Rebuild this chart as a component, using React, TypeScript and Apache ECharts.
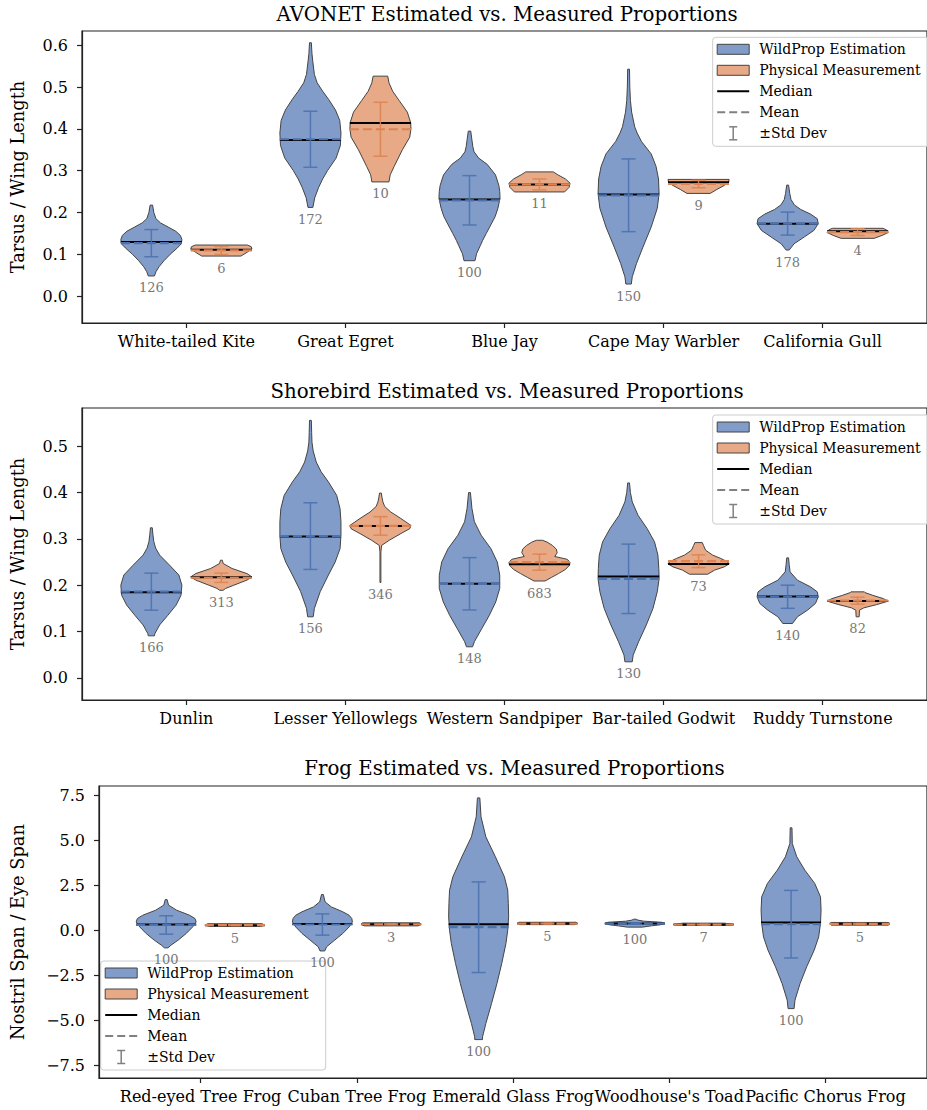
import React, { useEffect, useRef } from 'react';
import * as echarts from 'echarts';

// ---------------- DATA ----------------
const avonetCategories = ['White-tailed Kite', 'Great Egret', 'Blue Jay', 'Cape May Warbler', 'California Gull'];
const shoreCategories = ['Dunlin', 'Lesser Yellowlegs', 'Western Sandpiper', 'Bar-tailed Godwit', 'Ruddy Turnstone'];
const frogCategories = ['Red-eyed Tree Frog', 'Cuban Tree Frog', 'Emerald Glass Frog', "Woodhouse's Toad", 'Pacific Chorus Frog'];

const avonetTicks = [0, 0.1, 0.2, 0.3, 0.4, 0.5, 0.6];
const shoreTicks = [0, 0.1, 0.2, 0.3, 0.4, 0.5];
const frogTicks = [-7.5, -5, -2.5, 0, 2.5, 5, 7.5];

// violin outlines: [value, relative half-width]
const avonetEstProfiles = [
  [[0.048, 0.1], [0.058, 0.15], [0.07, 0.25], [0.085, 0.42], [0.1, 0.62], [0.115, 0.85], [0.125, 0.98], [0.135, 1.0], [0.145, 0.95], [0.155, 0.8], [0.165, 0.55], [0.175, 0.3], [0.185, 0.15], [0.2, 0.08], [0.2175, 0.04]],
  [[0.212, 0.08], [0.235, 0.14], [0.26, 0.27], [0.28, 0.4], [0.3, 0.56], [0.33, 0.84], [0.36, 0.98], [0.39, 1.0], [0.42, 0.96], [0.445, 0.82], [0.47, 0.6], [0.49, 0.4], [0.51, 0.22], [0.53, 0.13], [0.56, 0.08], [0.58, 0.05], [0.606, 0.03]],
  [[0.0845, 0.18], [0.101, 0.23], [0.12, 0.35], [0.133, 0.43], [0.15, 0.55], [0.165, 0.66], [0.19, 0.84], [0.21, 0.93], [0.234, 1.0], [0.25, 0.99], [0.265, 0.96], [0.29, 0.85], [0.315, 0.58], [0.33, 0.3], [0.345, 0.15], [0.357, 0.11], [0.373, 0.08], [0.3945, 0.04]],
  [[0.0287, 0.09], [0.046, 0.12], [0.078, 0.26], [0.117, 0.47], [0.165, 0.74], [0.21, 0.94], [0.245, 1.0], [0.28, 0.98], [0.31, 0.9], [0.34, 0.74], [0.37, 0.42], [0.39, 0.28], [0.405, 0.2], [0.44, 0.1], [0.468, 0.06], [0.5, 0.04], [0.5427, 0.03]],
  [[0.11, 0.05], [0.125, 0.21], [0.141, 0.54], [0.157, 0.86], [0.173, 1.0], [0.185, 0.97], [0.196, 0.75], [0.207, 0.43], [0.218, 0.22], [0.231, 0.11], [0.245, 0.07], [0.2654, 0.03]],
];
const avonetEstMedian = [0.129, 0.373, 0.231, 0.243, 0.173];
const avonetEstMean = [0.1265, 0.375, 0.229, 0.241, 0.1733];
const avonetEstSd = [0.0325, 0.067, 0.059, 0.087, 0.0275];
const avonetEstCount = [126, 172, 100, 150, 178];

const avonetMeasProfiles = [
  [[0.0956, 0.64], [0.105, 0.85], [0.113, 1.0], [0.118, 0.98], [0.122, 0.85]],
  [[0.273, 0.28], [0.29, 0.32], [0.31, 0.45], [0.35, 0.72], [0.38, 0.96], [0.4, 1.0], [0.415, 0.99], [0.44, 0.88], [0.468, 0.61], [0.49, 0.4], [0.51, 0.28], [0.526, 0.24]],
  [[0.249, 0.82], [0.26, 0.97], [0.27, 1.0], [0.28, 0.85], [0.29, 0.6], [0.297, 0.45]],
  [[0.2455, 0.38], [0.255, 0.6], [0.265, 0.85], [0.272, 0.98], [0.279, 1.0]],
  [[0.138, 0.54], [0.145, 0.8], [0.152, 1.0], [0.158, 0.95], [0.162, 0.83]],
];
const avonetMeasMedian = [0.111, 0.414, 0.267, 0.272, 0.155];
const avonetMeasMean = [0.109, 0.399, 0.267, 0.268, 0.153];
const avonetMeasSd = [0.0095, 0.0645, 0.013, 0.009, 0.008];
const avonetMeasCount = [6, 10, 11, 9, 4];

const shoreEstProfiles = [
  [[0.0906, 0.1], [0.096, 0.12], [0.114, 0.27], [0.135, 0.54], [0.157, 0.81], [0.178, 0.97], [0.2, 1.0], [0.222, 0.9], [0.243, 0.6], [0.265, 0.27], [0.28, 0.14], [0.294, 0.08], [0.31, 0.05], [0.324, 0.03]],
  [[0.1317, 0.09], [0.15, 0.13], [0.186, 0.32], [0.222, 0.59], [0.25, 0.81], [0.279, 0.97], [0.308, 1.0], [0.337, 1.0], [0.365, 0.97], [0.394, 0.86], [0.423, 0.59], [0.445, 0.35], [0.466, 0.19], [0.49, 0.09], [0.509, 0.05], [0.53, 0.04], [0.556, 0.03]],
  [[0.0669, 0.1], [0.078, 0.16], [0.106, 0.4], [0.135, 0.65], [0.164, 0.86], [0.193, 0.99], [0.2216, 0.99], [0.25, 0.91], [0.279, 0.7], [0.308, 0.38], [0.337, 0.16], [0.3655, 0.08], [0.4, 0.03]],
  [[0.0345, 0.12], [0.049, 0.15], [0.078, 0.33], [0.114, 0.58], [0.15, 0.8], [0.186, 0.94], [0.214, 1.0], [0.236, 0.99], [0.265, 0.96], [0.2935, 0.85], [0.322, 0.61], [0.351, 0.31], [0.38, 0.12], [0.4, 0.06], [0.4209, 0.03]],
  [[0.1173, 0.16], [0.1317, 0.32], [0.146, 0.65], [0.1604, 0.91], [0.1748, 1.0], [0.1856, 0.97], [0.1964, 0.75], [0.2108, 0.32], [0.2288, 0.08], [0.245, 0.05], [0.259, 0.03]],
];
const shoreEstMedian = [0.185, 0.305, 0.203, 0.219, 0.1755];
const shoreEstMean = [0.186, 0.306, 0.203, 0.2137, 0.175];
const shoreEstSd = [0.04, 0.072, 0.0565, 0.075, 0.025];
const shoreEstCount = [166, 156, 148, 130, 140];

const shoreMeasProfiles = [
  [[0.189, 0.06], [0.193, 0.14], [0.2, 0.41], [0.211, 0.84], [0.218, 1.0], [0.225, 0.84], [0.236, 0.35], [0.2468, 0.06], [0.254, 0.03]],
  [[0.2058, 0.015], [0.272, 0.015], [0.286, 0.04], [0.297, 0.29], [0.3115, 0.67], [0.322, 0.96], [0.329, 1.0], [0.344, 0.67], [0.358, 0.34], [0.37, 0.14], [0.38, 0.08], [0.39, 0.05], [0.399, 0.03]],
  [[0.209, 0.18], [0.217, 0.4], [0.225, 0.62], [0.234, 0.85], [0.243, 0.98], [0.25, 1.0], [0.256, 0.9], [0.262, 0.5], [0.27, 0.58], [0.278, 0.55], [0.286, 0.42], [0.293, 0.25], [0.297, 0.1]],
  [[0.2237, 0.3], [0.2324, 0.52], [0.2396, 0.84], [0.246, 1.0], [0.2504, 0.95], [0.2576, 0.73], [0.265, 0.46], [0.2755, 0.23], [0.286, 0.16], [0.292, 0.12]],
  [[0.1317, 0.05], [0.146, 0.06], [0.151, 0.2], [0.158, 0.62], [0.1655, 1.0], [0.171, 0.84], [0.178, 0.5], [0.184, 0.24], [0.1856, 0.22]],
];
const shoreMeasMedian = [0.217, 0.328, 0.2453, 0.246, 0.166];
const shoreMeasMean = [0.216, 0.328, 0.2497, 0.2518, 0.1665];
const shoreMeasSd = [0.01, 0.02, 0.0173, 0.0138, 0.0075];
const shoreMeasCount = [313, 346, 683, 73, 82];

const frogEstProfiles = [
  [[-0.98, 0.06], [-0.83, 0.16], [-0.55, 0.4], [-0.18, 0.67], [0.18, 0.88], [0.46, 1.0], [0.65, 0.96], [0.83, 0.78], [1.11, 0.35], [1.39, 0.08], [1.7, 0.03]],
  [[-1.15, 0.08], [-0.92, 0.14], [-0.55, 0.41], [-0.18, 0.68], [0.18, 0.89], [0.46, 1.0], [0.65, 0.98], [0.83, 0.89], [1.02, 0.68], [1.29, 0.3], [1.57, 0.09], [1.98, 0.03]],
  [[-6.07, 0.13], [-5.92, 0.13], [-5.18, 0.24], [-4.07, 0.43], [-2.96, 0.61], [-1.85, 0.77], [-0.74, 0.91], [0, 0.97], [0.74, 1.0], [1.48, 0.99], [2.22, 0.97], [2.96, 0.86], [4.07, 0.56], [5.18, 0.24], [6.29, 0.08], [7.34, 0.04]],
  [[0.17, 0.25], [0.24, 0.55], [0.3, 0.85], [0.37, 1.0], [0.44, 0.9], [0.5, 0.3], [0.56, 0.1], [0.61, 0.04]],
  [[-4.35, 0.1], [-3.88, 0.13], [-2.96, 0.3], [-2.03, 0.52], [-1.11, 0.77], [-0.37, 0.92], [0.37, 0.98], [1.11, 1.0], [1.85, 0.98], [2.59, 0.79], [3.33, 0.46], [4.07, 0.19], [4.81, 0.04], [5.68, 0.03]],
];
const frogEstMedian = [0.31, 0.35, 0.333, 0.37, 0.425];
const frogEstMean = [0.29, 0.315, 0.166, 0.37, 0.333];
const frogEstSd = [0.51, 0.59, 2.515, 0.04, 1.875];
const frogEstCount = [100, 100, 100, 100, 100];

const frogMeasProfiles = [
  [[0.21, 0.85], [0.29, 1.0], [0.36, 0.9]],
  [[0.24, 0.9], [0.33, 1.0], [0.41, 0.95]],
  [[0.31, 0.9], [0.38, 1.0], [0.44, 0.95]],
  [[0.26, 0.9], [0.32, 1.0], [0.39, 0.7]],
  [[0.28, 0.95], [0.36, 1.0], [0.43, 0.95]],
];
const frogMeasMedian = [0.28, 0.33, 0.37, 0.31, 0.355];
const frogMeasMean = [0.28, 0.33, 0.37, 0.31, 0.355];
const frogMeasSd = [0.02, 0.02, 0.02, 0.02, 0.02];
const frogMeasCount = [5, 3, 5, 7, 5];

// ---------------- STYLE ----------------
const FONT = 'DejaVu Serif';
const BLUE = '#4c72b0';
const ORANGE = '#dd8452';
const BLUE_FILL = 'rgba(76,114,176,0.7)';
const ORANGE_FILL = 'rgba(221,132,82,0.7)';
const HALF_W = 0.192;
const OFFSET = 0.22;
const SPINE = '#222';

function makeRender(profiles, medians, means, sds, counts, offset, fill, color) {
  return (params, api) => {
    const i = params.dataIndex;
    const xc = i + offset;
    const prof = profiles[i];
    const cx = api.coord([xc, 0])[0];
    const hp = api.size([HALF_W, 0])[0];
    const right = prof.map(([v, w]) => [cx + w * hp, api.coord([xc, v])[1]]);
    const left = prof.map(([v, w]) => [cx - w * hp, api.coord([xc, v])[1]]).reverse();
    const pts = right.concat(left);
    const yMed = api.coord([xc, medians[i]])[1];
    const yMean = api.coord([xc, means[i]])[1];
    const yTop = api.coord([xc, means[i] + sds[i]])[1];
    const yBot = api.coord([xc, means[i] - sds[i]])[1];
    const yMin = api.coord([xc, prof[0][0]])[1];
    const cap = 7;
    return {
      type: 'group',
      children: [
        { type: 'polygon', shape: { points: pts }, style: { fill, stroke: '#444', lineWidth: 1 } },
        { type: 'line', shape: { x1: cx - hp, y1: yMed, x2: cx + hp, y2: yMed }, style: { stroke: '#000', lineWidth: 2 } },
        { type: 'line', shape: { x1: cx - hp, y1: yMean, x2: cx + hp, y2: yMean }, style: { stroke: color, lineWidth: 2.2, lineDash: [9, 4] } },
        { type: 'line', shape: { x1: cx, y1: yTop, x2: cx, y2: yBot }, style: { stroke: color, lineWidth: 1.5, opacity: 0.9 } },
        { type: 'line', shape: { x1: cx - cap, y1: yTop, x2: cx + cap, y2: yTop }, style: { stroke: color, lineWidth: 1.5, opacity: 0.9 } },
        { type: 'line', shape: { x1: cx - cap, y1: yBot, x2: cx + cap, y2: yBot }, style: { stroke: color, lineWidth: 1.5, opacity: 0.9 } },
        {
          type: 'text',
          style: {
            text: String(counts[i]), x: cx, y: yMin + 12, fill: '#777', fontSize: 13, fontFamily: FONT,
            align: 'center', verticalAlign: 'middle', textAlign: 'center', textVerticalAlign: 'middle',
          },
        },
      ],
    };
  };
}

function legendGroup(left, top) {
  const rows = [12, 33, 54, 75, 96];
  const px = left + 4.5;
  const pw = 32;
  const tx = left + 46.5;
  const children: any[] = [
    { type: 'rect', shape: { x: left, y: top, width: 225, height: 109, r: 3 }, style: { fill: 'rgba(255,255,255,0.8)', stroke: '#ccc', lineWidth: 1 } },
    { type: 'rect', shape: { x: px, y: top + rows[0] - 5, width: pw, height: 10 }, style: { fill: BLUE_FILL, stroke: '#444', lineWidth: 1 } },
    { type: 'rect', shape: { x: px, y: top + rows[1] - 5, width: pw, height: 10 }, style: { fill: ORANGE_FILL, stroke: '#444', lineWidth: 1 } },
    { type: 'line', shape: { x1: px, y1: top + rows[2], x2: px + pw, y2: top + rows[2] }, style: { stroke: '#000', lineWidth: 2 } },
    { type: 'line', shape: { x1: px, y1: top + rows[3], x2: px + pw, y2: top + rows[3] }, style: { stroke: '#808080', lineWidth: 2, lineDash: [8, 4] } },
    { type: 'line', shape: { x1: px + pw / 2, y1: top + rows[4] - 6.5, x2: px + pw / 2, y2: top + rows[4] + 6.5 }, style: { stroke: '#808080', lineWidth: 1.5 } },
    { type: 'line', shape: { x1: px + pw / 2 - 4, y1: top + rows[4] - 6.5, x2: px + pw / 2 + 4, y2: top + rows[4] - 6.5 }, style: { stroke: '#808080', lineWidth: 1.5 } },
    { type: 'line', shape: { x1: px + pw / 2 - 4, y1: top + rows[4] + 6.5, x2: px + pw / 2 + 4, y2: top + rows[4] + 6.5 }, style: { stroke: '#808080', lineWidth: 1.5 } },
  ];
  const labels = ['WildProp Estimation', 'Physical Measurement', 'Median', 'Mean', '\u00b1Std Dev'];
  labels.forEach((t, k) => {
    children.push({
      type: 'text',
      style: {
        text: t, x: tx, y: top + rows[k], fill: '#000', fontSize: 14, fontFamily: FONT,
        align: 'left', verticalAlign: 'middle', textAlign: 'left', textVerticalAlign: 'middle',
      },
    });
  });
  return { type: 'group', z: 100, children };
}

function titleText(text, x, y) {
  return {
    type: 'text', z: 100,
    style: {
      text, x, y, fill: '#000', fontSize: 19.8, fontFamily: FONT,
      align: 'center', verticalAlign: 'middle', textAlign: 'center', textVerticalAlign: 'middle',
    },
  };
}

const fmt1 = (v) => (v < 0 ? '\u2212' : '') + Math.abs(v).toFixed(1);

export default function App() {
  const ref = useRef<HTMLDivElement>(null);
  useEffect(() => {
    const chart = echarts.init(ref.current, null, { renderer: 'svg' });
    const panels = [
      { cats: avonetCategories, ticks: avonetTicks, ymin: -0.0645, ymax: 0.634, left: 78, top: 31, width: 858, xr: 0.656, name: 'Tarsus / Wing Length', gap: 56,
        est: [avonetEstProfiles, avonetEstMedian, avonetEstMean, avonetEstSd, avonetEstCount],
        meas: [avonetMeasProfiles, avonetMeasMedian, avonetMeasMean, avonetMeasSd, avonetMeasCount] },
      { cats: shoreCategories, ticks: shoreTicks, ymin: -0.048, ymax: 0.5827, left: 78, top: 408, width: 858, xr: 0.656, name: 'Tarsus / Wing Length', gap: 56,
        est: [shoreEstProfiles, shoreEstMedian, shoreEstMean, shoreEstSd, shoreEstCount],
        meas: [shoreMeasProfiles, shoreMeasMedian, shoreMeasMean, shoreMeasSd, shoreMeasCount] },
      { cats: frogCategories, ticks: frogTicks, ymin: -8.2, ymax: 8.0, left: 94, top: 786, width: 841, xr: 0.65, name: 'Nostril Span / Eye Span', gap: 73,
        est: [frogEstProfiles, frogEstMedian, frogEstMean, frogEstSd, frogEstCount],
        meas: [frogMeasProfiles, frogMeasMedian, frogMeasMean, frogMeasSd, frogMeasCount] },
    ];
    const grid = panels.map((p) => ({
      left: p.left, top: p.top, width: p.width, height: 292, show: true, borderColor: SPINE, borderWidth: 1.2, backgroundColor: 'transparent',
    }));
    const xAxis = panels.map((p, k) => ({
      type: 'value', gridIndex: k, min: -p.xr, max: 4 + p.xr,
      axisLine: { show: true, onZero: false, lineStyle: { color: SPINE, width: 1.2 } },
      splitLine: { show: false },
      axisTick: { show: true, length: 5, customValues: [0, 1, 2, 3, 4], lineStyle: { color: SPINE, width: 1.2 } },
      axisLabel: { show: true, customValues: [0, 1, 2, 3, 4], formatter: (v) => p.cats[Math.round(v)], color: '#000', fontSize: 16, fontFamily: FONT, margin: 10 },
    }));
    const yAxis = panels.map((p, k) => ({
      type: 'value', gridIndex: k, min: p.ymin, max: p.ymax,
      name: p.name, nameLocation: 'middle', nameGap: p.gap, nameRotate: 90,
      nameTextStyle: { color: '#000', fontSize: 17.8, fontFamily: FONT },
      axisLine: { show: true, onZero: false, lineStyle: { color: SPINE, width: 1.2 } },
      splitLine: { show: false },
      axisTick: { show: true, length: 5, customValues: p.ticks, lineStyle: { color: SPINE, width: 1.2 } },
      axisLabel: { show: true, customValues: p.ticks, formatter: fmt1, color: '#000', fontSize: 16, fontFamily: FONT, margin: 14 },
    }));
    const series: any[] = [];
    panels.forEach((p, k) => {
      const data = p.cats.map((_, i) => [i, p.est[1][i]]);
      series.push({
        type: 'custom', xAxisIndex: k, yAxisIndex: k, data, clip: false,
        renderItem: makeRender(p.est[0], p.est[1], p.est[2], p.est[3], p.est[4], -OFFSET, BLUE_FILL, BLUE),
      });
      const data2 = p.cats.map((_, i) => [i, p.meas[1][i]]);
      series.push({
        type: 'custom', xAxisIndex: k, yAxisIndex: k, data: data2, clip: false,
        renderItem: makeRender(p.meas[0], p.meas[1], p.meas[2], p.meas[3], p.meas[4], OFFSET, ORANGE_FILL, ORANGE),
      });
    });
    const graphic = [
      titleText('AVONET Estimated vs. Measured Proportions', 507, 14),
      titleText('Shorebird Estimated vs. Measured Proportions', 507, 391),
      titleText('Frog Estimated vs. Measured Proportions', 514.5, 768.5),
      legendGroup(712.7, 37.3),
      legendGroup(712.7, 415),
      legendGroup(100.7, 961),
    ];
    chart.setOption({ animation: false, grid, xAxis, yAxis, series, graphic });
    return () => chart.dispose();
  }, []);
  return <div ref={ref} style={{ position: 'absolute', left: 0, top: 0, width: 927, height: 1110, background: '#fff' }} />;
}
